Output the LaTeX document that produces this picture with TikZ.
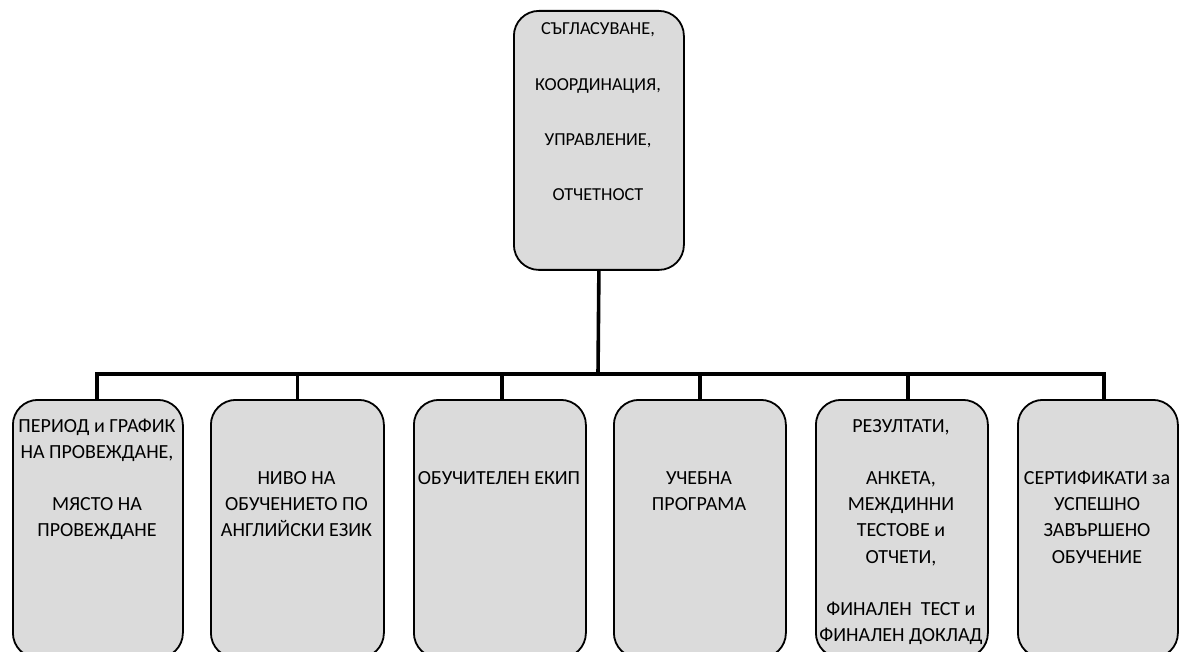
\documentclass[tikz,border=0pt]{standalone}
\usepackage{fontspec}
\setmainfont{Carlito}
\begin{document}
\begin{tikzpicture}[x=1pt,y=-1pt,
  box/.style={draw=black, line width=1.8pt, fill=gray!28, rounded corners=25pt, inner sep=0pt, anchor=north west},
  conn/.style={draw=black, line width=3.6pt},
  txt/.style={anchor=north, align=center, inner sep=0pt, font=\fontsize{20}{26.2}\selectfont}]
\useasboundingbox (0,0) rectangle (1180,652);
% boxes
\node[box, minimum width=170pt, minimum height=259pt] (top) at (513,10) {};
\node[box, minimum width=170pt, minimum height=258pt] (b1) at (12,399) {};
\node[box, minimum width=173pt, minimum height=258pt] (b2) at (210,399) {};
\node[box, minimum width=172pt, minimum height=258pt] (b3) at (413,399) {};
\node[box, minimum width=172pt, minimum height=258pt] (b4) at (613,399) {};
\node[box, minimum width=172pt, minimum height=258pt] (b5) at (815,399) {};
\node[box, minimum width=160pt, minimum height=258pt] (b6) at (1017,399) {};
% texts
\node[txt, font=\fontsize{18.3}{55.3}\selectfont] (ttop) at (598,-4) {\strut СЪГЛАСУВАНЕ,\\КООРДИНАЦИЯ,\\УПРАВЛЕНИЕ,\\ОТЧЕТНОСТ};
\node[txt] (t1) at (97,413.5) {\strut ПЕРИОД и ГРАФИК\\НА ПРОВЕЖДАНЕ,\\\strut\\МЯСТО НА\\ПРОВЕЖДАНЕ};
\node[txt] (t2) at (296.5,413.5) {\strut\\\strut\\НИВО НА\\ОБУЧЕНИЕТО ПО\\АНГЛИЙСКИ ЕЗИК};
\node[txt] (t3) at (499,413.5) {\strut\\\strut\\ОБУЧИТЕЛЕН ЕКИП};
\node[txt] (t4) at (699,413.5) {\strut\\\strut\\УЧЕБНА\\ПРОГРАМА};
\node[txt] (t5) at (901,413.5) {\strut РЕЗУЛТАТИ,\\\strut\\АНКЕТА,\\МЕЖДИННИ\\ТЕСТОВЕ и\\ОТЧЕТИ,\\\strut\\ФИНАЛЕН\ \ ТЕСТ и\\ФИНАЛЕН ДОКЛАД};
\node[txt] (t6) at (1097,413.5) {\strut\\\strut\\СЕРТИФИКАТИ за\\УСПЕШНО\\ЗАВЪРШЕНО\\ОБУЧЕНИЕ};
% connectors
\coordinate (bus) at (598,374);
\draw[conn] (top.south) -- (bus);
\draw[conn] ([xshift=-1pt]b1.north) |- (bus);
\draw[conn] (b2.north) |- (bus);
\draw[conn] ([xshift=2pt]b3.north) |- (bus);
\draw[conn] (b4.north) |- (bus);
\draw[conn] ([xshift=6pt]b5.north) |- (bus);
\draw[conn] ([xshift=6pt]b6.north) |- (bus);
\end{tikzpicture}
\end{document}
